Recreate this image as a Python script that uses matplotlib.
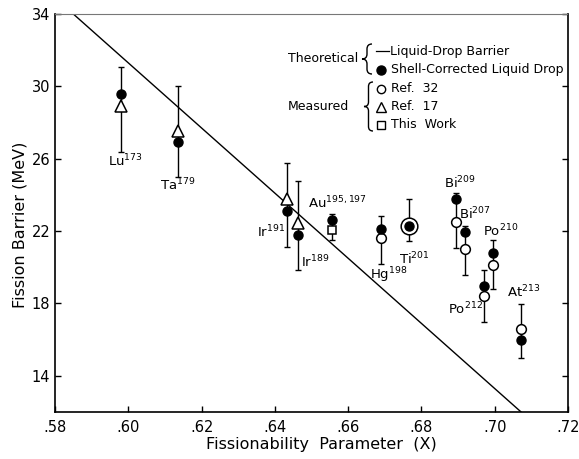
import matplotlib
matplotlib.use('Agg')
import matplotlib.pyplot as plt
from matplotlib.lines import Line2D
from matplotlib.path import Path
from matplotlib.patches import PathPatch

plt.rcParams['font.family'] = ['DejaVu Sans']
plt.rcParams['mathtext.fontset'] = 'dejavusans'

# ---- data ----
# Liquid-drop barrier (theoretical line end points)
ld_x = [0.585, 0.7072]
ld_y = [34.0, 12.0]

# Shell-corrected liquid drop (filled circles)
sc_x = [0.598, 0.6135, 0.6434, 0.6463, 0.6556, 0.669, 0.6765, 0.6893, 0.6919, 0.6971, 0.6994, 0.7072]
sc_y = [29.6, 26.9, 23.1, 21.8, 22.6, 22.1, 22.3, 23.75, 21.95, 18.95, 20.8, 16.0]

# Ref. 32 (open circles)
ref32_nuclei = ['Hg198', 'Tl201', 'Bi209', 'Bi207', 'Po212', 'Po210', 'At213']
ref32_x = [0.669, 0.6765, 0.6893, 0.6919, 0.6971, 0.6994, 0.7072]
ref32_y = [21.6, 22.3, 22.5, 21.0, 18.4, 20.15, 16.6]
ref32_lo = [20.2, 21.45, 21.05, 19.6, 17.0, 18.8, 15.0]
ref32_hi = [22.85, 23.8, 24.1, 22.3, 19.85, 21.5, 17.95]

# Ref. 17 (open triangles)
ref17_x = [0.598, 0.6135, 0.6434, 0.6463]
ref17_y = [28.9, 27.55, 23.75, 22.45]
ref17_lo = [26.35, 25.0, 21.1, 19.85]
ref17_hi = [31.05, 30.0, 25.75, 24.75]

# This work (open square)
tw_x = [0.6556]
tw_y = [22.05]
tw_lo = [21.5]
tw_hi = [22.95]

# Point labels
lab_base = ['Lu', 'Ta', 'Ir', 'Ir', 'Au', 'Hg', 'Ti', 'Bi', 'Bi', 'Po', 'Po', 'At']
lab_mass = ['173', '179', '191', '189', '195,197', '198', '201', '209', '207', '212', '210', '213']
lab_x = [0.5991, 0.6136, 0.6390, 0.6510, 0.6570, 0.6712, 0.6780, 0.6905, 0.6946, 0.6919, 0.7015, 0.7080]
lab_y = [25.87, 24.55, 21.95, 20.29, 23.55, 19.55, 20.45, 24.66, 22.94, 17.7, 22.0, 18.63]

x_ticks = [0.58, 0.60, 0.62, 0.64, 0.66, 0.68, 0.70, 0.72]
y_ticks = [14, 18, 22, 26, 30, 34]

# ---- figure ----
W, H = 579, 459
fig = plt.figure(figsize=(W / 100, H / 100), dpi=100)
ax = fig.add_axes([55 / W, 1 - 412 / H, (568 - 55) / W, (412 - 14) / H])
ax.set_xlim(0.58, 0.72)
ax.set_ylim(12, 34)

ax.plot(ld_x, ld_y, color='black', lw=1.0, zorder=2)

def errs(y, lo, hi):
    return [[a - b for a, b in zip(y, lo)], [b - a for a, b in zip(y, hi)]]

ekw = dict(fmt='none', ecolor='black', elinewidth=1.0, capsize=2.5, capthick=1.0, zorder=3)
ax.errorbar(ref32_x, ref32_y, yerr=errs(ref32_y, ref32_lo, ref32_hi), **ekw)
ax.errorbar(ref17_x, ref17_y, yerr=errs(ref17_y, ref17_lo, ref17_hi), **ekw)
ax.errorbar(tw_x, tw_y, yerr=errs(tw_y, tw_lo, tw_hi), **ekw)

for n, x, y in zip(ref32_nuclei, ref32_x, ref32_y):
    ms = 12 if n == 'Tl201' else 7
    ax.plot([x], [y], 'o', ms=ms, mfc='white', mec='black', mew=1.1, zorder=4)
ax.plot(ref17_x, ref17_y, '^', ms=8, mfc='white', mec='black', mew=1.1, ls='none', zorder=4)
ax.plot(tw_x, tw_y, 's', ms=6, mfc='white', mec='black', mew=1.1, ls='none', zorder=4)
ax.plot(sc_x, sc_y, 'o', ms=6.5, color='black', ls='none', zorder=5)

for b, m, x, y in zip(lab_base, lab_mass, lab_x, lab_y):
    ax.text(x, y, b + r'$^{' + m + '}$', ha='center', va='center', fontsize=9.5)

ax.set_xticks(x_ticks)
ax.set_xticklabels([('%.2f' % v)[1:] for v in x_ticks])
ax.set_yticks(y_ticks)
ax.set_yticklabels([str(v) for v in y_ticks])
ax.tick_params(direction='in', length=4, width=1, labelsize=10.5, right=True, top=False)
ax.tick_params(axis='x', pad=6)
for s in ['left', 'bottom', 'right']:
    ax.spines[s].set_linewidth(1.2)
ax.spines['top'].set_linewidth(0.8)
ax.spines['top'].set_color('#777777')
ax.spines['top'].set_linestyle((0, (2, 1)))

ax.set_xlabel('Fissionability  Parameter  (X)', fontsize=11.5)
ax.set_ylabel('Fission Barrier (MeV)', fontsize=11.5)
ax.xaxis.set_label_coords((321 - 55) / 513, -(445 - 412) / 398, transform=ax.transAxes)
ax.xaxis.label.set_va('center')
ax.yaxis.set_label_coords((20 - 55) / 513, 1 - (225 - 14) / 398, transform=ax.transAxes)
ax.yaxis.label.set_va('center')

# ---- hand-made legend (figure pixel coordinates) ----
def fx(px):
    return px / W

def fy(py):
    return 1 - py / H

def brace(xl, xr, yt, yb):
    xc = (xl + xr) / 2.0
    ym = (yt + yb) / 2.0
    r = (xr - xl) / 2.0
    verts = [(xr, yt), (xc, yt), (xc, yt + r),
             (xc, ym - r),
             (xc, ym), (xl, ym),
             (xc, ym), (xc, ym + r),
             (xc, yb - r),
             (xc, yb), (xr, yb)]
    codes = [Path.MOVETO, Path.CURVE3, Path.CURVE3,
             Path.LINETO,
             Path.CURVE3, Path.CURVE3,
             Path.CURVE3, Path.CURVE3,
             Path.LINETO,
             Path.CURVE3, Path.CURVE3]
    pts = [(fx(a), fy(b)) for a, b in verts]
    fig.add_artist(PathPatch(Path(pts, codes), fill=False, lw=1.0, ec='black',
                             transform=fig.transFigure))

fs = 9
fig.text(fx(358), fy(58), 'Theoretical', fontsize=fs, va='center', ha='right')
brace(362, 372, 44, 74)
fig.add_artist(Line2D([fx(376), fx(389)], [fy(51), fy(51)], color='black', lw=0.9, transform=fig.transFigure))
fig.text(fx(390), fy(51), 'Liquid-Drop Barrier', fontsize=fs, va='center', ha='left')
fig.add_artist(Line2D([fx(381)], [fy(70)], marker='o', ms=6.5, color='black', transform=fig.transFigure))
fig.text(fx(391), fy(70), 'Shell-Corrected Liquid Drop', fontsize=fs, va='center', ha='left')

fig.text(fx(349), fy(107), 'Measured', fontsize=fs, va='center', ha='right')
brace(364, 373, 82, 131)
fig.add_artist(Line2D([fx(381)], [fy(89)], marker='o', ms=6, mfc='white', mec='black', mew=1.0, transform=fig.transFigure))
fig.text(fx(391), fy(89), 'Ref.  32', fontsize=fs, va='center', ha='left')
fig.add_artist(Line2D([fx(381)], [fy(107)], marker='^', ms=7, mfc='white', mec='black', mew=1.0, transform=fig.transFigure))
fig.text(fx(391), fy(107), 'Ref.  17', fontsize=fs, va='center', ha='left')
fig.add_artist(Line2D([fx(381)], [fy(125)], marker='s', ms=5.5, mfc='white', mec='black', mew=1.0, transform=fig.transFigure))
fig.text(fx(391), fy(125), 'This  Work', fontsize=fs, va='center', ha='left')

fig.savefig('out.png', dpi=100)
